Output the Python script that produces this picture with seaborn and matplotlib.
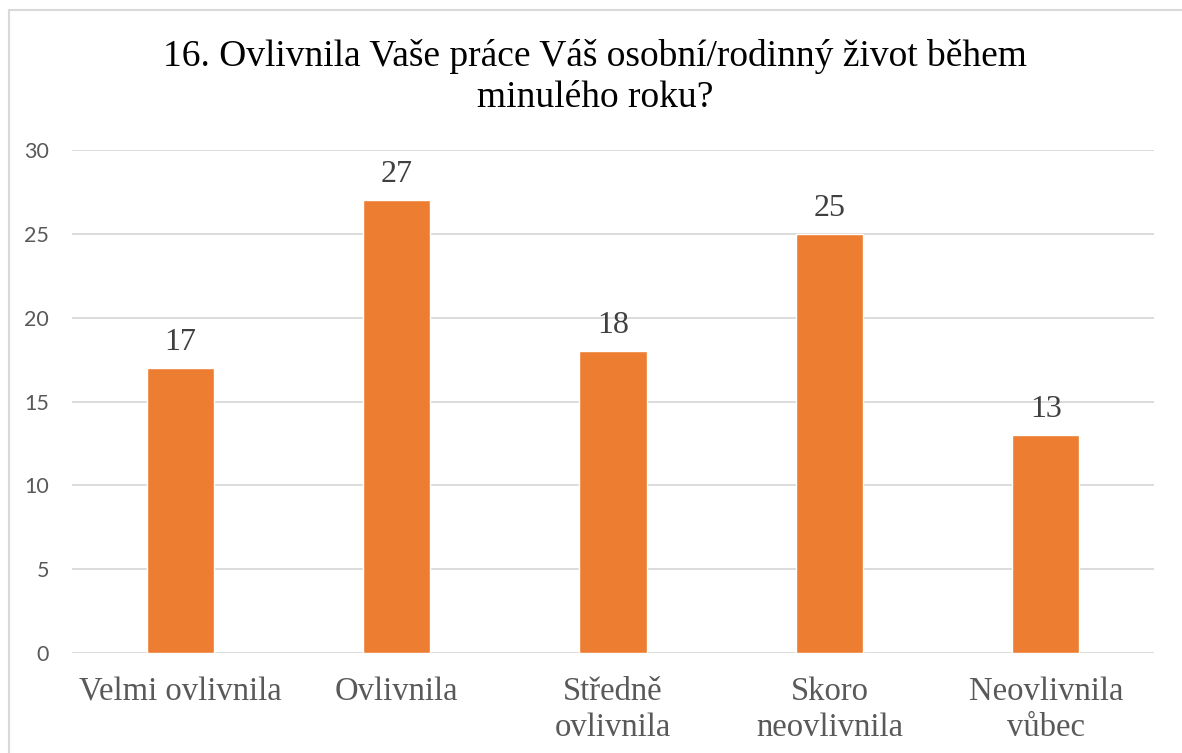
import matplotlib
matplotlib.use("Agg")
import matplotlib.pyplot as plt
import seaborn as sns
import pandas as pd
from matplotlib.patches import Rectangle

categories = ["Velmi ovlivnila", "Ovlivnila", "Středně\novlivnila", "Skoro\nneovlivnila", "Neovlivnila\nvůbec"]
values = [17, 27, 18, 25, 13]
yticks = [0, 5, 10, 15, 20, 25, 30]
title = "16. Ovlivnila Vaše práce Váš osobní/rodinný život během\nminulého roku?"

sns.set_theme(style="white")
plt.rcParams['font.family'] = ['Liberation Serif', 'DejaVu Serif']

df = pd.DataFrame({"cat": categories, "val": values})

fig = plt.figure(figsize=(11.82, 7.53), dpi=100)
ax = fig.add_axes([72/1182, 1-653/753, (1154-72)/1182, (653-150)/753])

sns.barplot(data=df, x="cat", y="val", color="#ED7D31", saturation=1, width=0.31, ax=ax)

ax.set_ylim(0, 30)
ax.set_yticks(yticks)
ax.set_xlim(-0.5, len(categories) - 0.5)
ax.yaxis.grid(True, color="#D9D9D9", linewidth=1.3)
ax.set_axisbelow(True)
for s in ax.spines.values():
    s.set_visible(False)
ax.set_xlabel("")
ax.set_ylabel("")
ax.tick_params(axis="y", length=0, pad=16.5, labelsize=15.5, labelcolor="#595959")
ax.tick_params(axis="x", length=0, pad=17, labelsize=23.5, labelcolor="#595959")
for lab in ax.get_yticklabels():
    lab.set_fontfamily("Lato")
for lab in ax.get_xticklabels():
    lab.set_linespacing(1.25)

for i, v in enumerate(values):
    ax.annotate(str(v), (i, v), xytext=(0, 8), textcoords="offset points",
                ha="center", va="bottom", fontsize=23, color="#404040")

fig.text(595/1182, 1-39/753, title, ha="center", va="top", fontsize=27, color="#000000", linespacing=1.25)

fig.patches.append(Rectangle((9/1182, -0.1), 1.2, 1 - 10/753 + 0.1, transform=fig.transFigure,
                             fill=False, edgecolor="#D9D9D9", linewidth=1.5))

fig.savefig("out.png", dpi=100)
